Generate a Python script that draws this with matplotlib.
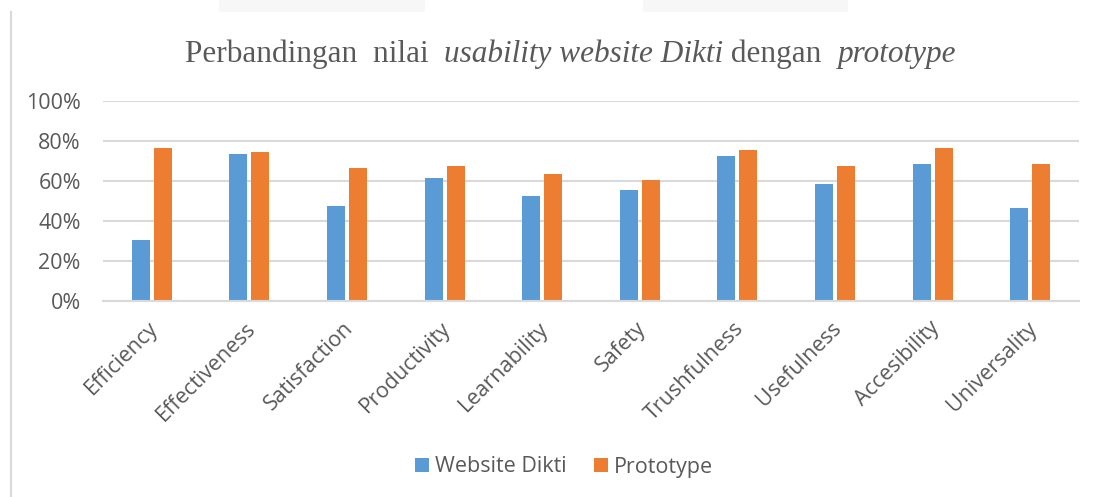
import matplotlib
matplotlib.use("Agg")
import matplotlib.pyplot as plt
import matplotlib.transforms as mtrans
import numpy as np
from matplotlib.patches import Rectangle
from matplotlib.lines import Line2D

categories = ["Efficiency", "Effectiveness", "Satisfaction", "Productivity", "Learnability",
              "Safety", "Trushfulness", "Usefulness", "Accesibility", "Universality"]
website_dikti = [0.305, 0.735, 0.475, 0.615, 0.525, 0.555, 0.725, 0.585, 0.685, 0.465]
prototype = [0.765, 0.745, 0.665, 0.675, 0.635, 0.605, 0.755, 0.675, 0.765, 0.685]
series_names = ["Website Dikti", "Prototype"]
yticks = [0, 0.2, 0.4, 0.6, 0.8, 1.0]
ytick_labels = ["0%", "20%", "40%", "60%", "80%", "100%"]

BLUE = "#5B9BD5"
ORANGE = "#ED7D31"
GRID = "#D9D9D9"
TXT = "#595959"
SANS = "Open Sans"

W, H = 1101, 497
fig = plt.figure(figsize=(W / 100, H / 100), dpi=100)
fig.patch.set_facecolor("white")

# decorative artifacts of the reference
fig.add_artist(Rectangle((219 / W, 1 - 12 / H), (425 - 219) / W, 12 / H,
                         transform=fig.transFigure, facecolor="#F7F7F7", edgecolor="none"))
fig.add_artist(Rectangle((643 / W, 1 - 12 / H), (848 - 643) / W, 12 / H,
                         transform=fig.transFigure, facecolor="#F7F7F7", edgecolor="none"))
fig.add_artist(Line2D([11 / W, 11 / W], [0, 1 - 12 / H], transform=fig.transFigure,
                      color=GRID, linewidth=1.5))

left, right = 103 / W, 1079 / W
bottom, top = 1 - 301 / H, 1 - 101 / H
ax = fig.add_axes([left, bottom, right - left, top - bottom])

x = np.arange(len(categories))
bw = 0.185
gap = 0.04
ax.bar(x - (bw + gap) / 2, website_dikti, width=bw, color=BLUE, label=series_names[0], zorder=3)
ax.bar(x + (bw + gap) / 2, prototype, width=bw, color=ORANGE, label=series_names[1], zorder=3)

ax.set_xlim(-0.5, len(categories) - 0.5)
ax.set_ylim(0, 1.0)
ax.set_yticks(yticks)
ax.set_yticklabels(ytick_labels)
ax.yaxis.grid(True, color=GRID, linewidth=1.5, zorder=0)
ax.set_axisbelow(True)
for s in ["top", "right", "left"]:
    ax.spines[s].set_visible(False)
ax.spines["bottom"].set_color(GRID)
ax.spines["bottom"].set_linewidth(1.5)
ax.spines["bottom"].set_zorder(4)
ax.tick_params(axis="y", length=0, pad=16, labelsize=15.5, labelcolor=TXT)
ax.tick_params(axis="x", length=0, pad=12, labelsize=15.5, labelcolor=TXT)
for lab in ax.get_yticklabels():
    lab.set_fontfamily(SANS)

ax.set_xticks(x)
ax.set_xticklabels(categories, rotation=45, ha="right", va="top",
                   rotation_mode="anchor", fontfamily=SANS)
offset = mtrans.ScaledTranslation(-4 / 100, 0, fig.dpi_scale_trans)
for lab in ax.get_xticklabels():
    lab.set_transform(lab.get_transform() + offset)

# title with mixed italics
title_y = 1 - 62 / H
parts = [("Perbandingan  nilai  ", "normal"), ("usability website Dikti", "italic"),
         (" dengan  ", "normal"), ("prototype", "italic")]
fig.canvas.draw()
renderer = fig.canvas.get_renderer()
texts = []
widths = []
for s, st in parts:
    t = fig.text(0, title_y, s, fontsize=22.5, fontfamily="Liberation Serif", style=st,
                 color=TXT, va="baseline", ha="left")
    bb = t.get_window_extent(renderer)
    texts.append(t)
    widths.append(bb.width)
total = sum(widths)
cx = 570.5
xstart = cx - total / 2
for t, w in zip(texts, widths):
    t.set_x(xstart / W)
    xstart += w

leg = fig.legend(loc="center", bbox_to_anchor=(564 / W, 1 - 467 / H), ncol=2, frameon=False,
                 prop={"family": SANS, "size": 15.5}, handlelength=0.65, handleheight=0.65,
                 handletextpad=0.3, columnspacing=1.25)
for t in leg.get_texts():
    t.set_color(TXT)

fig.savefig("out.png", dpi=100, facecolor="white")
